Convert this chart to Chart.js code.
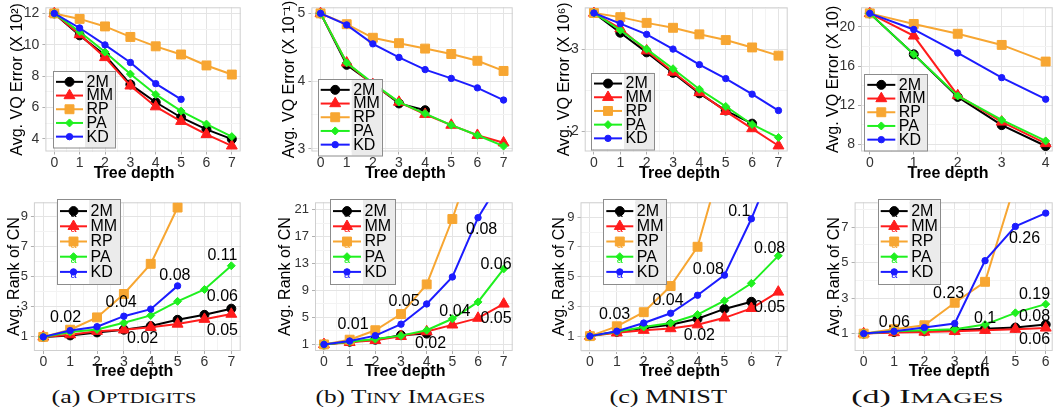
<!DOCTYPE html>
<html>
<head>
<meta charset="utf-8">
<script src="https://cdn.jsdelivr.net/npm/chart.js"></script>
<style>
  body { margin: 0; background: #fff; width: 1060px; height: 415px; overflow: hidden; position: relative; }
  canvas { position: absolute; }
  .cap { position: absolute; top: 387px; line-height: 20px; font-family: 'Liberation Serif', 'Times New Roman', serif;
         font-size: 18px; white-space: nowrap; color: #111; transform-origin: 50% 50%; }
  .sm { font-size: 0.78em; }
</style>
</head>
<body>
<canvas id="vqOpt"></canvas>
<canvas id="vqTiny"></canvas>
<canvas id="vqMnist"></canvas>
<canvas id="vqImg"></canvas>
<canvas id="cnOpt"></canvas>
<canvas id="cnTiny"></canvas>
<canvas id="cnMnist"></canvas>
<canvas id="cnImg"></canvas>
<div class="cap" data-w="145" data-cx="124">(a) O<span class="sm">PTDIGITS</span></div>
<div class="cap" data-w="170" data-cx="400">(b) T<span class="sm">INY</span> I<span class="sm">MAGES</span></div>
<div class="cap" data-w="117" data-cx="668">(c) MNIST</div>
<div class="cap" data-w="153" data-cx="927">(d) I<span class="sm">MAGES</span></div>
<script>
// ---- data ----
const seriesNames = ['2M', 'MM', 'RP', 'PA', 'KD'];
const depth8 = [0, 1, 2, 3, 4, 5, 6, 7];
const depth7 = [0, 1, 2, 3, 4, 5, 6];
const depth5 = [0, 1, 2, 3, 4];

// avg. VQ error, top row
const optVq2M = [12, 10.6, 9.33, 7.47, 6.33, 5.36, 4.6, 3.98];
const optVqMM = [12, 10.65, 9.19, 7.38, 6.05, 5.12, 4.28, 3.55];
const optVqRP = [12, 11.65, 11.17, 10.5, 9.9, 9.38, 8.68, 8.1];
const optVqPA = [12, 10.83, 9.54, 8.13, 6.83, 5.77, 4.94, 4.14];
const optVqKD = [12, 11.07, 9.99, 8.87, 7.52, 6.52];

const tinyVq2M = [5.0, 4.24, 3.96, 3.67, 3.57];
const tinyVqMM = [5.0, 4.27, 3.95, 3.69, 3.51, 3.35, 3.2, 3.09];
const tinyVqRP = [5.0, 4.84, 4.64, 4.56, 4.48, 4.4, 4.3, 4.15];
const tinyVqPA = [5.0, 4.27, 3.97, 3.69, 3.52, 3.35, 3.2, 3.04];
const tinyVqKD = [5.0, 4.83, 4.55, 4.35, 4.17, 4.04, 3.9, 3.72];

const mnistVq2M = [3.44, 3.2, 2.96, 2.71, 2.46, 2.25, 2.09];
const mnistVqMM = [3.44, 3.25, 2.98, 2.72, 2.47, 2.24, 2.03, 1.82];
const mnistVqRP = [3.44, 3.39, 3.32, 3.26, 3.18, 3.11, 3.02, 2.92];
const mnistVqPA = [3.44, 3.23, 3.0, 2.76, 2.51, 2.3, 2.08, 1.92];
const mnistVqKD = [3.44, 3.31, 3.18, 3.0, 2.81, 2.64, 2.45, 2.25];

const imgVq2M = [21.38, 17.2, 12.85, 9.97, 7.84];
const imgVqMM = [21.38, 19.08, 13.0, 10.3, 8.1];
const imgVqRP = [21.38, 20.3, 19.3, 18.16, 16.46];
const imgVqPA = [21.38, 17.2, 12.95, 10.5, 8.36];
const imgVqKD = [21.38, 19.74, 17.34, 14.82, 12.62];

// avg. rank of CN, bottom row
const optCn2M = [1, 1.1, 1.3, 1.48, 1.72, 2.14, 2.47, 2.88];
const optCnMM = [1, 1.15, 1.38, 1.47, 1.64, 1.86, 2.18, 2.52];
const optCnRP = [1, 1.48, 2.3, 3.86, 5.87, 9.62];
const optCnPA = [1, 1.33, 1.5, 1.94, 2.43, 3.37, 4.16, 5.74];
const optCnKD = [1, 1.42, 1.68, 2.38, 2.85, 4.4];

const tinyCn2M = [1, 1.4, 1.7, 2.36, 2.6];
const tinyCnMM = [1, 1.3, 1.6, 2.2, 2.9, 3.9, 4.9, 7.0];
const tinyCnRP = [1, 1.7, 3.1, 5.5, 9.9, 19.6, 31];
const tinyCnPA = [1, 1.4, 1.8, 2.3, 3.1, 4.8, 7.3, 12.2];
const tinyCnKD = [1, 1.5, 2.3, 4.0, 7.0, 11.0, 19.8, 26];

const mnistCn2M = [1, 1.29, 1.55, 1.77, 2.17, 2.83, 3.31];
const mnistCnMM = [1, 1.22, 1.4, 1.51, 1.77, 2.23, 2.87, 3.97];
const mnistCnRP = [1, 1.66, 2.61, 4.37, 7.01, 13.4];
const mnistCnPA = [1, 1.29, 1.62, 1.88, 2.45, 3.38, 4.55, 6.4];
const mnistCnKD = [1, 1.33, 1.88, 2.54, 3.75, 5.1, 8.89, 13.3];

const imgCn2M = [1, 1.09, 1.13, 1.19, 1.28, 1.34, 1.51];
const imgCnMM = [1, 1.06, 1.09, 1.13, 1.19, 1.25, 1.32];
const imgCnRP = [1, 1.25, 1.47, 2.74, 3.92, 9.5];
const imgCnPA = [1, 1.13, 1.19, 1.25, 1.51, 2.17, 2.66];
const imgCnKD = [1, 1.13, 1.34, 1.57, 5.11, 7.04, 7.79];

// value labels written on the CN plots: [depth, rank, text]
const optCnNotes = [[0.83, 2.27, '0.02'], [2.9, 3.3, '0.04'], [4.9, 5.06, '0.08'], [6.67, 6.42, '0.11'],
  [6.67, 3.7, '0.06'], [6.67, 1.44, '0.05'], [3.7, 0.9, '0.02']];
const tinyCnNotes = [[1.13, 3.9, '0.01'], [3.12, 7.3, '0.05'], [4.15, 1.15, '0.02'], [5.1, 5.9, '0.04'],
  [6.14, 18.0, '0.08'], [6.7, 12.8, '0.06'], [6.7, 4.9, '0.05']];
const mnistCnNotes = [[0.92, 2.43, '0.03'], [2.9, 3.42, '0.04'], [4.4, 5.47, '0.08'], [5.55, 9.39, '0.1'],
  [6.68, 6.9, '0.08'], [6.68, 2.94, '0.05'], [4.07, 1.02, '0.02']];
const imgCnNotes = [[1.01, 1.62, '0.06'], [2.8, 3.23, '0.23'], [4.0, 1.85, '0.1'], [5.3, 6.38, '0.26'],
  [5.63, 3.2, '0.19'], [5.63, 1.94, '0.08'], [5.63, 0.68, '0.06']];

// tick labels
const optVqTicks = [4, 6, 8, 10, 12];
const tinyVqTicks = [3, 4, 5];
const mnistVqTicks = [2, 3];
const imgVqTicks = [8, 12, 16, 20];
const optCnTicks = [1, 3, 5, 7, 9];
const tinyCnTicks = [1, 5, 9, 13, 17, 21];
const mnistCnTicks = [1, 3, 5, 7, 9];
const imgCnTicks = [1, 3, 5, 7];

// ---- style ----
const seriesColors = ['#000000', '#ff1c1c', '#f7a632', '#1ff01f', '#1c1cff'];
const seriesShapes = ['circle', 'triangle', 'rect', 'rectRot', 'circle'];
const seriesRadius = [4.5, 6.3, 6.3, 4, 3.2];
const FONT = "'Liberation Sans', Arial, sans-serif";
const vqTitle = ['Avg. VQ Error (X 10²)', 'Avg. VQ Error (X 10⁻¹)', 'Avg. VQ Error (X 10⁶)', 'Avg. VQ Error (X 10)'];

const panels = [
  { canvas: 'vqOpt', left: 0, top: 0, width: 248, height: 183, yw: 45.4, padTop: 2, padRight: 6.5, xh: 31.5, yTitlePad: 8.2,
    xmin: -0.35, xmax: 7.35, ymin: 3.19, ymax: 12.39, depths: depth8, yTicks: optVqTicks, yTitle: vqTitle[0], shift: 4,
    series: [optVq2M, optVqMM, optVqRP, optVqPA, optVqKD], leg: { x: 53, y: 71, keyW: 32, labelW: 30, rowH: 13.7, pad: 4, font: 16 } },
  { canvas: 'vqTiny', left: 265, top: 0, width: 255, height: 183, yw: 46.4, padTop: 2, padRight: 5, xh: 31.5, yTitlePad: 14.9,
    xmin: -0.35, xmax: 7.35, ymin: 2.96, ymax: 5.09, depths: depth8, yTicks: tinyVqTicks, yTitle: vqTitle[1], shift: 3,
    series: [tinyVq2M, tinyVqMM, tinyVqRP, tinyVqPA, tinyVqKD], leg: { x: 52.7, y: 79, keyW: 34, labelW: 30, rowH: 13.7, pad: 4, font: 16 } },
  { canvas: 'vqMnist', left: 530, top: 0, width: 265, height: 183, yw: 54.7, padTop: 2, padRight: 5.7, xh: 31.5, yTitlePad: 24.9,
    xmin: -0.35, xmax: 7.35, ymin: 1.75, ymax: 3.51, depths: depth8, yTicks: mnistVqTicks, yTitle: vqTitle[2], shift: 3,
    series: [mnistVq2M, mnistVqMM, mnistVqRP, mnistVqPA, mnistVqKD], leg: { x: 61, y: 72.7, keyW: 33, labelW: 30, rowH: 13.7, pad: 4, font: 16 } },
  { canvas: 'vqImg', left: 800, top: 0, width: 260, height: 183, yw: 61, padTop: 2, padRight: 1, xh: 31.5, yTitlePad: 24.2,
    xmin: -0.2, xmax: 4.16, ymin: 7.28, ymax: 22.0, depths: depth5, yTicks: imgVqTicks, yTitle: vqTitle[3], shift: 4,
    series: [imgVq2M, imgVqMM, imgVqRP, imgVqPA, imgVqKD], leg: { x: 64.3, y: 74, keyW: 33, labelW: 30, rowH: 13.7, pad: 4, font: 16 } },
  { canvas: 'cnOpt', left: 0, top: 195, width: 248, height: 186, yw: 33.9, padTop: 5.3, padRight: 6.2, xh: 30, yTitlePad: 4.9,
    xmin: -0.35, xmax: 7.35, ymin: 0.06, ymax: 9.97, depths: depth8, yTicks: optCnTicks, yTitle: 'Avg. Rank of CN', shift: 2,
    series: [optCn2M, optCnMM, optCnRP, optCnPA, optCnKD], notes: optCnNotes,
    leg: { x: 57, y: 4, keyW: 32, labelW: 31, rowH: 15.2, pad: 4.5, font: 16, glyph: true } },
  { canvas: 'cnTiny', left: 265, top: 195, width: 255, height: 186, yw: 50, padTop: 5.3, padRight: 5, xh: 30, yTitlePad: 11.4,
    xmin: -0.35, xmax: 7.35, ymin: 0.02, ymax: 22.08, depths: depth8, yTicks: tinyCnTicks, yTitle: 'Avg. Rank of CN', shift: 4,
    series: [tinyCn2M, tinyCnMM, tinyCnRP, tinyCnPA, tinyCnKD], notes: tinyCnNotes,
    leg: { x: 65, y: 4, keyW: 33, labelW: 32, rowH: 15.2, pad: 4.5, font: 16, glyph: true } },
  { canvas: 'cnMnist', left: 530, top: 195, width: 265, height: 186, yw: 50.5, padTop: 5.3, padRight: 6.2, xh: 30, yTitlePad: 19.9,
    xmin: -0.35, xmax: 7.35, ymin: 0.0, ymax: 10.0, depths: depth8, yTicks: mnistCnTicks, yTitle: 'Avg. Rank of CN', shift: 2,
    series: [mnistCn2M, mnistCnMM, mnistCnRP, mnistCnPA, mnistCnKD], notes: mnistCnNotes,
    leg: { x: 73.3, y: 4, keyW: 32, labelW: 31, rowH: 15.2, pad: 4.5, font: 16, glyph: true } },
  { canvas: 'cnImg', left: 800, top: 195, width: 260, height: 186, yw: 54.6, padTop: 5.3, padRight: 1, xh: 30, yTitlePad: 24.9,
    xmin: -0.3, xmax: 6.23, ymin: 0.02, ymax: 8.4, depths: depth7, yTicks: imgCnTicks, yTitle: 'Avg. Rank of CN', shift: 2,
    series: [imgCn2M, imgCnMM, imgCnRP, imgCnPA, imgCnKD], notes: imgCnNotes,
    leg: { x: 77.7, y: 4, keyW: 32, labelW: 30, rowH: 15.2, pad: 4.5, font: 16, glyph: true } }
];

function withMinors(majors, min, max) {
  const step = majors.length > 1 ? majors[1] - majors[0] : 1;
  const all = majors.slice();
  for (let v = majors[0] - step / 2; v <= majors[majors.length - 1] + step / 2 + 1e-9; v += step) {
    if (v >= min && v <= max) all.push(v);
  }
  return all.sort((a, b) => a - b);
}

function drawMarker(ctx, shape, x, y, r, color) {
  ctx.fillStyle = color;
  ctx.strokeStyle = color;
  ctx.lineWidth = 1;
  ctx.beginPath();
  if (shape === 'circle') {
    ctx.arc(x, y, r, 0, Math.PI * 2);
  } else if (shape === 'triangle') {
    ctx.moveTo(x, y - r);
    ctx.lineTo(x + r * 0.866, y + r * 0.5);
    ctx.lineTo(x - r * 0.866, y + r * 0.5);
    ctx.closePath();
  } else if (shape === 'rect') {
    const s = r * Math.SQRT1_2;
    ctx.rect(x - s, y - s, 2 * s, 2 * s);
  } else {
    ctx.moveTo(x - r, y);
    ctx.lineTo(x, y - r);
    ctx.lineTo(x + r, y);
    ctx.lineTo(x, y + r);
    ctx.closePath();
  }
  ctx.fill();
  ctx.stroke();
}

function drawLegend(ctx, lg) {
  const h = lg.pad * 2 + lg.rowH * seriesNames.length;
  ctx.save();
  ctx.fillStyle = '#ffffff';
  ctx.fillRect(lg.x, lg.y, lg.keyW, h);
  ctx.fillStyle = '#ebebeb';
  ctx.fillRect(lg.x + lg.keyW, lg.y, lg.labelW, h);
  ctx.strokeStyle = '#8c8c8c';
  ctx.lineWidth = 1;
  ctx.strokeRect(Math.round(lg.x) + 0.5, Math.round(lg.y) + 0.5, lg.keyW + lg.labelW, h);
  seriesNames.forEach((name, i) => {
    const cy = lg.y + lg.pad + lg.rowH * (i + 0.5);
    const x0 = lg.x + 3, x1 = lg.x + lg.keyW - 2, cx = (x0 + x1) / 2;
    ctx.strokeStyle = seriesColors[i];
    ctx.lineWidth = 2;
    ctx.beginPath();
    ctx.moveTo(x0, cy);
    ctx.lineTo(x1, cy);
    ctx.stroke();
    drawMarker(ctx, seriesShapes[i], cx, cy, seriesRadius[i], seriesColors[i]);
    if (lg.glyph) {
      ctx.fillStyle = seriesColors[i];
      ctx.font = '11px ' + FONT;
      ctx.textAlign = 'center';
      ctx.textBaseline = 'middle';
      ctx.fillText('a', cx, cy + 3);
    }
    ctx.fillStyle = '#000';
    ctx.font = lg.font + 'px ' + FONT;
    ctx.textAlign = 'left';
    ctx.textBaseline = 'middle';
    ctx.fillText(name, lg.x + lg.keyW + 1.5, cy + 0.5);
  });
  ctx.restore();
}

function makeFigPlugin(p) {
  return {
    id: 'fig',
    beforeDatasetsDraw(chart) {
      const { ctx, chartArea: a } = chart;
      ctx.save();
      ctx.strokeStyle = '#cfcfcf';
      ctx.lineWidth = 1;
      ctx.strokeRect(a.left + 0.5, a.top + 0.5, a.width - 1, a.height - 1);
      ctx.restore();
    },
    afterDraw(chart) {
      const { ctx, scales } = chart;
      if (p.notes) {
        ctx.save();
        ctx.font = '16px ' + FONT;
        ctx.fillStyle = '#000';
        ctx.textAlign = 'center';
        ctx.textBaseline = 'middle';
        p.notes.forEach(n => ctx.fillText(n[2], scales.x.getPixelForValue(n[0]), scales.y.getPixelForValue(n[1])));
        ctx.restore();
      }
      drawLegend(ctx, p.leg);
    }
  };
}

function buildPanel(p) {
  const cv = document.getElementById(p.canvas);
  cv.width = p.width;
  cv.height = p.height;
  cv.style.left = p.left + 'px';
  cv.style.top = p.top + 'px';

  const xMajors = p.depths;
  const xAll = withMinors(xMajors, p.xmin, p.xmax);
  const yAll = withMinors(p.yTicks, p.ymin, p.ymax);
  const isMajor = (list, v) => list.some(m => Math.abs(m - v) < 1e-9);

  const datasets = p.series.map((vals, i) => ({
    label: seriesNames[i],
    data: vals.map((v, k) => ({ x: p.depths[k], y: v })),
    borderColor: seriesColors[i],
    backgroundColor: seriesColors[i],
    borderWidth: 2,
    pointStyle: seriesShapes[i],
    pointRadius: seriesRadius[i],
    pointBorderWidth: 1,
    pointBackgroundColor: seriesColors[i],
    pointBorderColor: seriesColors[i],
    tension: 0,
    order: seriesNames.length - i
  }));

  new Chart(cv, {
    type: 'line',
    data: { datasets },
    plugins: [makeFigPlugin(p)],
    options: {
      responsive: false,
      animation: false,
      events: [],
      layout: { padding: { left: 0, top: p.padTop, right: p.padRight, bottom: 0 } },
      plugins: { legend: { display: false }, tooltip: { enabled: false } },
      scales: {
        x: {
          type: 'linear', min: p.xmin, max: p.xmax,
          afterBuildTicks: s => { s.ticks = xAll.map(v => ({ value: v })); },
          afterFit: s => { s.height = p.xh; s.paddingLeft = 0; s.paddingRight = 0; },
          ticks: { autoSkip: false, maxRotation: 0, padding: 0, color: '#333', font: { family: FONT, size: 14 },
                   callback: v => isMajor(xMajors, v) ? String(v) : '' },
          grid: { color: c => isMajor(xMajors, c.tick.value) ? '#e4e4e4' : '#f3f3f3',
                  tickColor: c => isMajor(xMajors, c.tick.value) ? '#b0b0b0' : 'rgba(0,0,0,0)', tickLength: 3 },
          border: { display: false },
          title: { display: true, text: 'Tree depth' + '\u00a0'.repeat(p.shift), color: '#000',
                   font: { family: FONT, size: 16, weight: 'bold' }, padding: { top: 0, bottom: 0 } }
        },
        y: {
          type: 'linear', min: p.ymin, max: p.ymax,
          afterBuildTicks: s => { s.ticks = yAll.map(v => ({ value: v })); },
          afterFit: s => { s.width = p.yw; s.paddingTop = 0; s.paddingBottom = 0; },
          ticks: { autoSkip: false, padding: 3, color: '#333', font: { family: FONT, size: p.top ? 13 : 14 },
                   callback: v => isMajor(p.yTicks, v) ? String(v) : '' },
          grid: { color: c => isMajor(p.yTicks, c.tick.value) ? '#e4e4e4' : '#f3f3f3',
                  tickColor: c => isMajor(p.yTicks, c.tick.value) ? '#b0b0b0' : 'rgba(0,0,0,0)', tickLength: 3 },
          border: { display: false },
          title: { display: true, text: p.yTitle, color: '#000', font: { family: FONT, size: 16 },
                   padding: { top: p.yTitlePad, bottom: 0 } }
        }
      }
    }
  });
}

panels.forEach(buildPanel);

// the captions are set wide in the figure: stretch each to its measured width
document.querySelectorAll('.cap').forEach(el => {
  const w = el.offsetWidth;
  el.style.left = (+el.dataset.cx - w / 2) + 'px';
  el.style.transform = 'scaleX(' + (+el.dataset.w / w) + ')';
});
</script>
</body>
</html>
